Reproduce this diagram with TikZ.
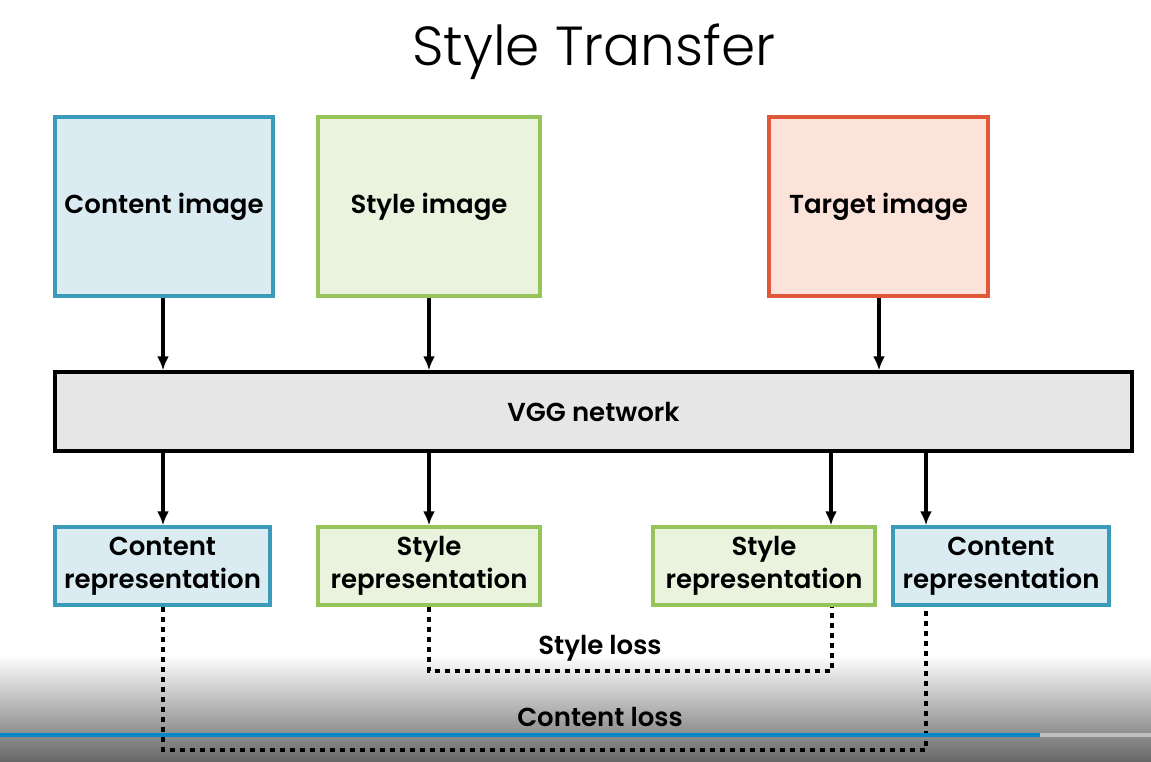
\documentclass[tikz,border=0pt]{standalone}
\usepackage{fontspec}
\setmainfont{Poppins}
\newfontfamily\titlefont{Poppins Light}
\newfontfamily\medfont{Poppins SemiBold}
\usetikzlibrary{arrows.meta,shadings}
\definecolor{cfill}{HTML}{DAEBF1}
\definecolor{cdraw}{HTML}{3A9BBB}
\definecolor{sfill}{HTML}{EAF3DE}
\definecolor{sdraw}{HTML}{96C35A}
\definecolor{tfill}{HTML}{FCE3DA}
\definecolor{tdraw}{HTML}{E0573A}
\definecolor{vfill}{HTML}{E6E6E6}
\definecolor{bar}{HTML}{0A87C6}
\tikzset{
  box/.style={draw, line width=3.4pt, inner sep=0pt, align=center, font=\medfont\fontsize{26}{33}\selectfont},
  cbox/.style={box, draw=cdraw, fill=cfill},
  sbox/.style={box, draw=sdraw, fill=sfill},
  tbox/.style={box, draw=tdraw, fill=tfill},
  arr/.style={line width=3.4pt, -{Latex[length=14pt,width=12pt]}},
  loss/.style={line width=3.4pt, dash pattern=on 5pt off 5pt},
  lbl/.style={font=\medfont\fontsize{26}{30}\selectfont}
}
\begin{document}
\begin{tikzpicture}[x=1pt,y=-1pt]
\useasboundingbox (0,0) rectangle (1151,762);
\fill[white] (0,0) rectangle (1151,762);
% video overlay gradient
\shade[top color=white, bottom color=black!60] (0,655) rectangle (1151,762);
\node[font=\titlefont\fontsize{55}{66}\selectfont] (title) at (594,52) {Style Transfer};
% images
\node[cbox, minimum width=218pt, minimum height=179pt] (ci) at (164,206.5) {Content image};
\node[sbox, minimum width=222pt, minimum height=179pt] (si) at (429,206.5) {Style image};
\node[tbox, minimum width=219pt, minimum height=179pt] (ti) at (878.5,206.5) {Target image};
% VGG
\node[box, draw=black, fill=vfill, minimum width=1077pt, minimum height=79pt] (vgg) at (593.5,411.5) {VGG network};
% representations
\node[cbox, minimum width=215pt, minimum height=78pt] (cr1) at (162.5,566) {Content\\representation};
\node[sbox, minimum width=222pt, minimum height=78pt] (sr1) at (429,566) {Style\\representation};
\node[sbox, minimum width=222pt, minimum height=78pt] (sr2) at (764,566) {Style\\representation};
\node[cbox, minimum width=216pt, minimum height=78pt] (cr2) at (1001,566) {Content\\representation};
% arrows in
\draw[arr] (ci.south -| 163,0) -- (vgg.north -| 163,0);
\draw[arr] (si.south) -- (vgg.north -| si.south);
\draw[arr] (ti.south -| 879,0) -- (vgg.north -| 879,0);
% arrows out
\draw[arr] (vgg.south -| 163,0) -- (cr1.north -| 163,0);
\draw[arr] (vgg.south -| sr1.north) -- (sr1.north);
\draw[arr] (vgg.south -| 831,0) -- (sr2.north -| 831,0);
\draw[arr] (vgg.south -| 926,0) -- (cr2.north -| 926,0);
% losses
\coordinate (sl1) at (429,671);
\coordinate (sl2) at (832,671);
\draw[loss] (sr1.south) -- (sl1) -- (sl2) -- (sr2.south -| sl2);
\node[lbl] (sloss) at (600,648) {Style loss};
\coordinate (cl1) at (163,750);
\coordinate (cl2) at (926,750);
\draw[loss] (cr1.south -| cl1) -- (cl1) -- (cl2) -- (cr2.south -| cl2);
\node[lbl] (closs) at (600,717) {Content loss};
% progress bar
\fill[bar] (0,733) rectangle (1040,737);
\fill[black!25] (1040,733) rectangle (1151,737);
\end{tikzpicture}
\end{document}
